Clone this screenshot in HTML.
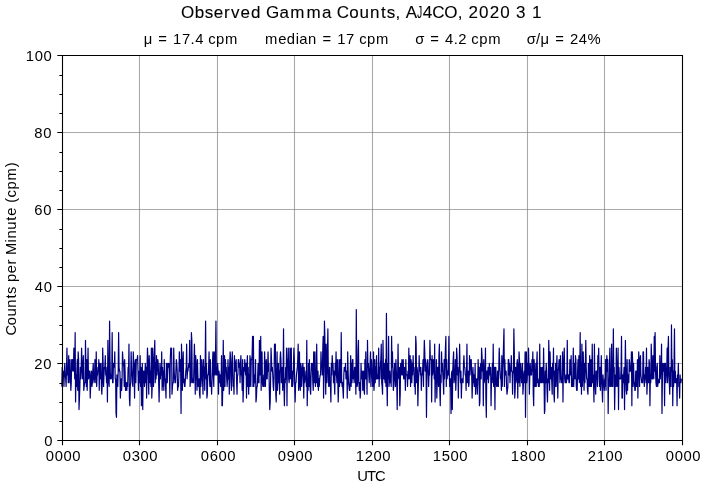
<!DOCTYPE html>
<html><head><meta charset="utf-8"><style>html,body{margin:0;padding:0;background:#fff;width:705px;height:489px;overflow:hidden}svg{display:block;will-change:transform}</style></head>
<body><svg width="705" height="489" viewBox="0 0 705 489">
<rect width="705" height="489" fill="#fff"/>
<path d="M139.5 55V441 M217.5 55V441 M294.5 55V441 M372.5 55V441 M449.5 55V441 M527.5 55V441 M604.5 55V441" stroke="#808080" stroke-opacity="0.68" stroke-width="1.1" fill="none"/>
<path d="M62 363.5H683 M62 286.5H683 M62 209.5H683 M62 132.5H683" stroke="#808080" stroke-opacity="0.68" stroke-width="1.1" fill="none"/>
<polyline points="61.80,386.50 62.23,367.25 62.66,374.95 63.09,371.10 63.52,374.95 63.95,386.50 64.38,371.10 64.81,363.40 65.24,374.95 65.67,378.80 66.11,386.50 66.54,367.25 66.97,348.00 67.40,374.95 67.83,367.25 68.26,382.65 68.69,355.70 69.12,382.65 69.55,374.95 69.98,359.55 70.41,374.95 70.84,390.35 71.27,382.65 71.70,359.55 72.13,371.10 72.56,359.55 72.99,359.55 73.42,371.10 73.86,348.00 74.29,359.55 74.72,378.80 75.15,332.60 75.58,401.90 76.01,374.95 76.44,386.50 76.87,371.10 77.30,359.55 77.73,390.35 78.16,351.85 78.59,359.55 79.02,409.60 79.45,398.05 79.88,386.50 80.31,367.25 80.74,378.80 81.17,367.25 81.61,348.00 82.04,367.25 82.47,378.80 82.90,367.25 83.33,355.70 83.76,390.35 84.19,386.50 84.62,382.65 85.05,382.65 85.48,340.30 85.91,367.25 86.34,386.50 86.77,359.55 87.20,390.35 87.63,371.10 88.06,348.00 88.49,378.80 88.92,374.95 89.36,371.10 89.79,371.10 90.22,398.05 90.65,386.50 91.08,374.95 91.51,371.10 91.94,386.50 92.37,382.65 92.80,371.10 93.23,363.40 93.66,378.80 94.09,382.65 94.52,378.80 94.95,359.55 95.38,367.25 95.81,382.65 96.24,351.85 96.67,386.50 97.11,374.95 97.54,374.95 97.97,367.25 98.40,371.10 98.83,359.55 99.26,390.35 99.69,363.40 100.12,378.80 100.55,367.25 100.98,363.40 101.41,386.50 101.84,394.20 102.27,382.65 102.70,348.00 103.13,363.40 103.56,386.50 103.99,374.95 104.42,367.25 104.86,367.25 105.29,355.70 105.72,374.95 106.15,374.95 106.58,382.65 107.01,367.25 107.44,401.90 107.87,340.30 108.30,367.25 108.73,382.65 109.16,386.50 109.59,321.05 110.02,359.55 110.45,378.80 110.88,374.95 111.31,378.80 111.74,374.95 112.17,332.60 112.61,382.65 113.04,382.65 113.47,363.40 113.90,363.40 114.33,367.25 114.76,351.85 115.19,378.80 115.62,378.80 116.05,413.45 116.48,417.30 116.91,374.95 117.34,386.50 117.77,386.50 118.20,371.10 118.63,332.60 119.06,367.25 119.49,371.10 119.92,371.10 120.36,398.05 120.79,386.50 121.22,378.80 121.65,390.35 122.08,378.80 122.51,351.85 122.94,359.55 123.37,363.40 123.80,367.25 124.23,386.50 124.66,359.55 125.09,371.10 125.52,390.35 125.95,382.65 126.38,382.65 126.81,390.35 127.24,382.65 127.67,386.50 128.11,367.25 128.54,371.10 128.97,344.15 129.40,398.05 129.83,405.75 130.26,386.50 130.69,382.65 131.12,351.85 131.55,367.25 131.98,374.95 132.41,382.65 132.84,386.50 133.27,351.85 133.70,363.40 134.13,367.25 134.56,398.05 134.99,363.40 135.43,359.55 135.86,382.65 136.29,359.55 136.72,359.55 137.15,359.55 137.58,355.70 138.01,371.10 138.44,390.35 138.87,374.95 139.30,371.10 139.73,382.65 140.16,355.70 140.59,386.50 141.02,367.25 141.45,405.75 141.88,398.05 142.31,363.40 142.74,409.60 143.18,371.10 143.61,382.65 144.04,371.10 144.47,386.50 144.90,374.95 145.33,363.40 145.76,382.65 146.19,367.25 146.62,398.05 147.05,367.25 147.48,348.00 147.91,359.55 148.34,378.80 148.77,394.20 149.20,355.70 149.63,367.25 150.06,382.65 150.49,371.10 150.93,386.50 151.36,348.00 151.79,398.05 152.22,386.50 152.65,348.00 153.08,363.40 153.51,386.50 153.94,363.40 154.37,351.85 154.80,340.30 155.23,382.65 155.66,363.40 156.09,378.80 156.52,355.70 156.95,374.95 157.38,367.25 157.81,359.55 158.24,363.40 158.68,382.65 159.11,401.90 159.54,378.80 159.97,363.40 160.40,378.80 160.83,367.25 161.26,374.95 161.69,351.85 162.12,390.35 162.55,367.25 162.98,386.50 163.41,371.10 163.84,390.35 164.27,359.55 164.70,378.80 165.13,378.80 165.56,386.50 165.99,398.05 166.43,363.40 166.86,367.25 167.29,382.65 167.72,363.40 168.15,367.25 168.58,363.40 169.01,363.40 169.44,374.95 169.87,398.05 170.30,359.55 170.73,348.00 171.16,355.70 171.59,348.00 172.02,394.20 172.45,386.50 172.88,382.65 173.31,382.65 173.74,348.00 174.18,371.10 174.61,378.80 175.04,382.65 175.47,382.65 175.90,371.10 176.33,359.55 176.76,363.40 177.19,371.10 177.62,390.35 178.05,386.50 178.48,386.50 178.91,374.95 179.34,351.85 179.77,371.10 180.20,359.55 180.63,367.25 181.06,413.45 181.49,344.15 181.93,363.40 182.36,390.35 182.79,367.25 183.22,351.85 183.65,382.65 184.08,378.80 184.51,386.50 184.94,386.50 185.37,378.80 185.80,371.10 186.23,367.25 186.66,344.15 187.09,378.80 187.52,371.10 187.95,371.10 188.38,367.25 188.81,363.40 189.24,367.25 189.68,340.30 190.11,386.50 190.54,378.80 190.97,382.65 191.40,332.60 191.83,340.30 192.26,382.65 192.69,378.80 193.12,378.80 193.55,382.65 193.98,363.40 194.41,344.15 194.84,363.40 195.27,394.20 195.70,355.70 196.13,363.40 196.56,374.95 196.99,390.35 197.43,359.55 197.86,374.95 198.29,386.50 198.72,386.50 199.15,378.80 199.58,394.20 200.01,398.05 200.44,355.70 200.87,386.50 201.30,378.80 201.73,359.55 202.16,367.25 202.59,382.65 203.02,394.20 203.45,359.55 203.88,374.95 204.31,367.25 204.74,390.35 205.18,363.40 205.61,321.05 206.04,378.80 206.47,363.40 206.90,398.05 207.33,394.20 207.76,374.95 208.19,374.95 208.62,367.25 209.05,351.85 209.48,378.80 209.91,386.50 210.34,359.55 210.77,386.50 211.20,382.65 211.63,394.20 212.06,378.80 212.49,363.40 212.93,351.85 213.36,374.95 213.79,386.50 214.22,351.85 214.65,363.40 215.08,374.95 215.51,355.70 215.94,321.05 216.37,374.95 216.80,371.10 217.23,374.95 217.66,363.40 218.09,371.10 218.52,394.20 218.95,371.10 219.38,374.95 219.81,382.65 220.24,374.95 220.68,386.50 221.11,378.80 221.54,355.70 221.97,405.75 222.40,405.75 222.83,382.65 223.26,340.30 223.69,390.35 224.12,374.95 224.55,355.70 224.98,386.50 225.41,359.55 225.84,371.10 226.27,367.25 226.70,378.80 227.13,386.50 227.56,378.80 227.99,359.55 228.43,378.80 228.86,367.25 229.29,394.20 229.72,363.40 230.15,351.85 230.58,359.55 231.01,382.65 231.44,390.35 231.87,363.40 232.30,351.85 232.73,371.10 233.16,386.50 233.59,382.65 234.02,394.20 234.45,355.70 234.88,367.25 235.31,371.10 235.74,363.40 236.18,359.55 236.61,382.65 237.04,394.20 237.47,374.95 237.90,374.95 238.33,359.55 238.76,359.55 239.19,367.25 239.62,363.40 240.05,382.65 240.48,363.40 240.91,355.70 241.34,374.95 241.77,374.95 242.20,390.35 242.63,359.55 243.06,401.90 243.49,386.50 243.93,367.25 244.36,371.10 244.79,359.55 245.22,367.25 245.65,374.95 246.08,363.40 246.51,398.05 246.94,367.25 247.37,355.70 247.80,386.50 248.23,367.25 248.66,394.20 249.09,374.95 249.52,386.50 249.95,355.70 250.38,359.55 250.81,386.50 251.24,359.55 251.68,359.55 252.11,355.70 252.54,336.45 252.97,386.50 253.40,336.45 253.83,386.50 254.26,378.80 254.69,374.95 255.12,382.65 255.55,359.55 255.98,401.90 256.41,398.05 256.84,386.50 257.27,386.50 257.70,374.95 258.13,363.40 258.56,382.65 258.99,382.65 259.43,340.30 259.86,374.95 260.29,374.95 260.72,336.45 261.15,390.35 261.58,359.55 262.01,351.85 262.44,382.65 262.87,386.50 263.30,386.50 263.73,374.95 264.16,386.50 264.59,351.85 265.02,363.40 265.45,386.50 265.88,367.25 266.31,359.55 266.74,378.80 267.18,378.80 267.61,367.25 268.04,351.85 268.47,371.10 268.90,363.40 269.33,390.35 269.76,409.60 270.19,401.90 270.62,378.80 271.05,348.00 271.48,359.55 271.91,371.10 272.34,367.25 272.77,374.95 273.20,386.50 273.63,390.35 274.06,378.80 274.49,344.15 274.93,359.55 275.36,344.15 275.79,394.20 276.22,401.90 276.65,378.80 277.08,351.85 277.51,390.35 277.94,378.80 278.37,363.40 278.80,382.65 279.23,371.10 279.66,394.20 280.09,359.55 280.52,351.85 280.95,359.55 281.38,382.65 281.81,374.95 282.24,367.25 282.68,390.35 283.11,371.10 283.54,328.75 283.97,386.50 284.40,405.75 284.83,378.80 285.26,382.65 285.69,367.25 286.12,378.80 286.55,348.00 286.98,405.75 287.41,359.55 287.84,363.40 288.27,348.00 288.70,378.80 289.13,382.65 289.56,374.95 289.99,348.00 290.43,378.80 290.86,363.40 291.29,348.00 291.72,386.50 292.15,371.10 292.58,386.50 293.01,382.65 293.44,367.25 293.87,348.00 294.30,359.55 294.73,386.50 295.16,401.90 295.59,382.65 296.02,382.65 296.45,374.95 296.88,371.10 297.31,367.25 297.74,359.55 298.18,344.15 298.61,390.35 299.04,371.10 299.47,351.85 299.90,386.50 300.33,390.35 300.76,363.40 301.19,367.25 301.62,386.50 302.05,374.95 302.48,367.25 302.91,363.40 303.34,378.80 303.77,398.05 304.20,367.25 304.63,382.65 305.06,378.80 305.49,378.80 305.93,371.10 306.36,386.50 306.79,340.30 307.22,405.75 307.65,382.65 308.08,390.35 308.51,363.40 308.94,386.50 309.37,359.55 309.80,374.95 310.23,390.35 310.66,394.20 311.09,374.95 311.52,363.40 311.95,367.25 312.38,363.40 312.81,382.65 313.24,390.35 313.68,351.85 314.11,374.95 314.54,382.65 314.97,351.85 315.40,386.50 315.83,371.10 316.26,382.65 316.69,344.15 317.12,374.95 317.55,386.50 317.98,371.10 318.41,390.35 318.84,378.80 319.27,386.50 319.70,378.80 320.13,374.95 320.56,374.95 320.99,351.85 321.43,367.25 321.86,367.25 322.29,374.95 322.72,351.85 323.15,336.45 323.58,398.05 324.01,371.10 324.44,321.05 324.87,336.45 325.30,367.25 325.73,394.20 326.16,344.15 326.59,374.95 327.02,382.65 327.45,351.85 327.88,328.75 328.31,371.10 328.74,386.50 329.18,378.80 329.61,367.25 330.04,386.50 330.47,386.50 330.90,401.90 331.33,363.40 331.76,374.95 332.19,355.70 332.62,363.40 333.05,363.40 333.48,382.65 333.91,371.10 334.34,382.65 334.77,394.20 335.20,363.40 335.63,374.95 336.06,351.85 336.49,374.95 336.93,382.65 337.36,359.55 337.79,378.80 338.22,401.90 338.65,386.50 339.08,359.55 339.51,386.50 339.94,367.25 340.37,359.55 340.80,382.65 341.23,332.60 341.66,378.80 342.09,386.50 342.52,382.65 342.95,390.35 343.38,398.05 343.81,374.95 344.24,367.25 344.68,371.10 345.11,371.10 345.54,363.40 345.97,378.80 346.40,374.95 346.83,371.10 347.26,398.05 347.69,351.85 348.12,371.10 348.55,382.65 348.98,386.50 349.41,390.35 349.84,390.35 350.27,371.10 350.70,355.70 351.13,386.50 351.56,363.40 351.99,382.65 352.43,359.55 352.86,359.55 353.29,378.80 353.72,371.10 354.15,382.65 354.58,367.25 355.01,367.25 355.44,374.95 355.87,394.20 356.30,309.50 356.73,374.95 357.16,386.50 357.59,382.65 358.02,351.85 358.45,340.30 358.88,382.65 359.31,390.35 359.74,382.65 360.18,398.05 360.61,390.35 361.04,363.40 361.47,378.80 361.90,374.95 362.33,371.10 362.76,390.35 363.19,374.95 363.62,371.10 364.05,390.35 364.48,394.20 364.91,359.55 365.34,378.80 365.77,351.85 366.20,378.80 366.63,371.10 367.06,394.20 367.49,340.30 367.93,367.25 368.36,363.40 368.79,374.95 369.22,382.65 369.65,371.10 370.08,363.40 370.51,351.85 370.94,386.50 371.37,359.55 371.80,363.40 372.23,374.95 372.66,386.50 373.09,382.65 373.52,351.85 373.95,390.35 374.38,382.65 374.81,359.55 375.24,382.65 375.68,367.25 376.11,378.80 376.54,355.70 376.97,378.80 377.40,374.95 377.83,378.80 378.26,374.95 378.69,348.00 379.12,386.50 379.55,367.25 379.98,378.80 380.41,363.40 380.84,359.55 381.27,344.15 381.70,382.65 382.13,386.50 382.56,394.20 382.99,340.30 383.43,367.25 383.86,378.80 384.29,363.40 384.72,378.80 385.15,382.65 385.58,359.55 386.01,386.50 386.44,313.35 386.87,382.65 387.30,405.75 387.73,363.40 388.16,378.80 388.59,336.45 389.02,386.50 389.45,378.80 389.88,371.10 390.31,382.65 390.74,374.95 391.18,386.50 391.61,336.45 392.04,367.25 392.47,351.85 392.90,371.10 393.33,390.35 393.76,386.50 394.19,371.10 394.62,363.40 395.05,378.80 395.48,386.50 395.91,359.55 396.34,371.10 396.77,382.65 397.20,409.60 397.63,374.95 398.06,344.15 398.49,374.95 398.93,378.80 399.36,367.25 399.79,405.75 400.22,394.20 400.65,363.40 401.08,374.95 401.51,367.25 401.94,359.55 402.37,374.95 402.80,374.95 403.23,359.55 403.66,378.80 404.09,378.80 404.52,367.25 404.95,371.10 405.38,390.35 405.81,359.55 406.24,374.95 406.68,374.95 407.11,374.95 407.54,386.50 407.97,371.10 408.40,378.80 408.83,348.00 409.26,374.95 409.69,378.80 410.12,355.70 410.55,386.50 410.98,359.55 411.41,363.40 411.84,382.65 412.27,363.40 412.70,374.95 413.13,355.70 413.56,371.10 413.99,367.25 414.43,386.50 414.86,378.80 415.29,394.20 415.72,336.45 416.15,344.15 416.58,382.65 417.01,367.25 417.44,371.10 417.87,405.75 418.30,386.50 418.73,374.95 419.16,355.70 419.59,371.10 420.02,367.25 420.45,374.95 420.88,367.25 421.31,390.35 421.74,374.95 422.18,374.95 422.61,371.10 423.04,359.55 423.47,386.50 423.90,359.55 424.33,340.30 424.76,351.85 425.19,371.10 425.62,359.55 426.05,367.25 426.48,417.30 426.91,378.80 427.34,363.40 427.77,359.55 428.20,367.25 428.63,386.50 429.06,371.10 429.49,374.95 429.93,340.30 430.36,359.55 430.79,359.55 431.22,359.55 431.65,401.90 432.08,355.70 432.51,374.95 432.94,371.10 433.37,359.55 433.80,363.40 434.23,378.80 434.66,344.15 435.09,401.90 435.52,374.95 435.95,382.65 436.38,359.55 436.81,398.05 437.24,382.65 437.68,367.25 438.11,367.25 438.54,386.50 438.97,355.70 439.40,344.15 439.83,390.35 440.26,405.75 440.69,374.95 441.12,382.65 441.55,351.85 441.98,371.10 442.41,363.40 442.84,374.95 443.27,382.65 443.70,394.20 444.13,359.55 444.56,378.80 444.99,363.40 445.43,348.00 445.86,336.45 446.29,386.50 446.72,359.55 447.15,378.80 447.58,371.10 448.01,371.10 448.44,374.95 448.87,336.45 449.30,374.95 449.73,386.50 450.16,378.80 450.59,378.80 451.02,413.45 451.45,374.95 451.88,371.10 452.31,409.60 452.74,371.10 453.18,359.55 453.61,351.85 454.04,382.65 454.47,378.80 454.90,374.95 455.33,359.55 455.76,390.35 456.19,378.80 456.62,348.00 457.05,355.70 457.48,374.95 457.91,367.25 458.34,398.05 458.77,371.10 459.20,371.10 459.63,344.15 460.06,371.10 460.49,382.65 460.93,371.10 461.36,398.05 461.79,382.65 462.22,378.80 462.65,378.80 463.08,382.65 463.51,363.40 463.94,355.70 464.37,367.25 464.80,367.25 465.23,374.95 465.66,374.95 466.09,390.35 466.52,371.10 466.95,344.15 467.38,382.65 467.81,374.95 468.24,371.10 468.68,386.50 469.11,382.65 469.54,355.70 469.97,374.95 470.40,367.25 470.83,359.55 471.26,359.55 471.69,374.95 472.12,398.05 472.55,382.65 472.98,367.25 473.41,382.65 473.84,374.95 474.27,386.50 474.70,386.50 475.13,363.40 475.56,394.20 475.99,378.80 476.43,386.50 476.86,378.80 477.29,394.20 477.72,382.65 478.15,359.55 478.58,378.80 479.01,367.25 479.44,405.75 479.87,401.90 480.30,367.25 480.73,363.40 481.16,378.80 481.59,348.00 482.02,355.70 482.45,371.10 482.88,363.40 483.31,405.75 483.74,359.55 484.18,382.65 484.61,378.80 485.04,371.10 485.47,348.00 485.90,398.05 486.33,417.30 486.76,371.10 487.19,371.10 487.62,378.80 488.05,367.25 488.48,382.65 488.91,374.95 489.34,363.40 489.77,374.95 490.20,371.10 490.63,367.25 491.06,405.75 491.49,378.80 491.93,378.80 492.36,363.40 492.79,382.65 493.22,344.15 493.65,386.50 494.08,367.25 494.51,367.25 494.94,409.60 495.37,367.25 495.80,367.25 496.23,382.65 496.66,386.50 497.09,386.50 497.52,371.10 497.95,371.10 498.38,386.50 498.81,367.25 499.24,348.00 499.68,363.40 500.11,371.10 500.54,378.80 500.97,378.80 501.40,390.35 501.83,355.70 502.26,386.50 502.69,371.10 503.12,359.55 503.55,344.15 503.98,328.75 504.41,386.50 504.84,359.55 505.27,374.95 505.70,371.10 506.13,371.10 506.56,386.50 506.99,394.20 507.43,390.35 507.86,386.50 508.29,359.55 508.72,359.55 509.15,374.95 509.58,363.40 510.01,382.65 510.44,367.25 510.87,371.10 511.30,355.70 511.73,371.10 512.16,371.10 512.59,394.20 513.02,374.95 513.45,371.10 513.88,328.75 514.31,351.85 514.74,398.05 515.17,390.35 515.61,367.25 516.04,382.65 516.47,378.80 516.90,363.40 517.33,359.55 517.76,398.05 518.19,363.40 518.62,382.65 519.05,351.85 519.48,359.55 519.91,386.50 520.34,371.10 520.77,363.40 521.20,374.95 521.63,382.65 522.06,374.95 522.49,363.40 522.92,394.20 523.36,386.50 523.79,374.95 524.22,371.10 524.65,382.65 525.08,351.85 525.51,417.30 525.94,371.10 526.37,351.85 526.80,382.65 527.23,378.80 527.66,363.40 528.09,374.95 528.52,348.00 528.95,367.25 529.38,394.20 529.81,374.95 530.24,363.40 530.67,374.95 531.11,371.10 531.54,374.95 531.97,359.55 532.40,371.10 532.83,351.85 533.26,394.20 533.69,405.75 534.12,359.55 534.55,371.10 534.98,386.50 535.41,386.50 535.84,363.40 536.27,386.50 536.70,363.40 537.13,351.85 537.56,382.65 537.99,378.80 538.42,386.50 538.86,382.65 539.29,386.50 539.72,344.15 540.15,382.65 540.58,382.65 541.01,367.25 541.44,382.65 541.87,382.65 542.30,367.25 542.73,378.80 543.16,382.65 543.59,348.00 544.02,374.95 544.45,413.45 544.88,409.60 545.31,371.10 545.74,382.65 546.17,363.40 546.61,371.10 547.04,390.35 547.47,401.90 547.90,378.80 548.33,382.65 548.76,340.30 549.19,359.55 549.62,390.35 550.05,351.85 550.48,367.25 550.91,378.80 551.34,367.25 551.77,382.65 552.20,394.20 552.63,363.40 553.06,374.95 553.49,348.00 553.92,394.20 554.36,401.90 554.79,371.10 555.22,386.50 555.65,363.40 556.08,386.50 556.51,367.25 556.94,355.70 557.37,378.80 557.80,398.05 558.23,371.10 558.66,367.25 559.09,359.55 559.52,367.25 559.95,382.65 560.38,355.70 560.81,378.80 561.24,378.80 561.67,382.65 562.11,374.95 562.54,351.85 562.97,401.90 563.40,367.25 563.83,359.55 564.26,348.00 564.69,378.80 565.12,382.65 565.55,382.65 565.98,374.95 566.41,382.65 566.84,378.80 567.27,340.30 567.70,378.80 568.13,378.80 568.56,374.95 568.99,382.65 569.42,382.65 569.86,359.55 570.29,374.95 570.72,371.10 571.15,355.70 571.58,386.50 572.01,382.65 572.44,386.50 572.87,374.95 573.30,348.00 573.73,386.50 574.16,367.25 574.59,363.40 575.02,378.80 575.45,355.70 575.88,359.55 576.31,386.50 576.74,390.35 577.17,390.35 577.61,371.10 578.04,359.55 578.47,378.80 578.90,355.70 579.33,382.65 579.76,371.10 580.19,332.60 580.62,386.50 581.05,363.40 581.48,394.20 581.91,344.15 582.34,386.50 582.77,374.95 583.20,351.85 583.63,371.10 584.06,390.35 584.49,363.40 584.92,382.65 585.36,363.40 585.79,340.30 586.22,367.25 586.65,378.80 587.08,378.80 587.51,390.35 587.94,394.20 588.37,363.40 588.80,374.95 589.23,386.50 589.66,355.70 590.09,386.50 590.52,386.50 590.95,359.55 591.38,386.50 591.81,378.80 592.24,344.15 592.67,382.65 593.11,374.95 593.54,382.65 593.97,401.90 594.40,344.15 594.83,374.95 595.26,386.50 595.69,394.20 596.12,371.10 596.55,374.95 596.98,371.10 597.41,386.50 597.84,355.70 598.27,363.40 598.70,348.00 599.13,378.80 599.56,386.50 599.99,367.25 600.42,390.35 600.86,378.80 601.29,355.70 601.72,378.80 602.15,390.35 602.58,401.90 603.01,374.95 603.44,382.65 603.87,382.65 604.30,390.35 604.73,378.80 605.16,386.50 605.59,359.55 606.02,390.35 606.45,363.40 606.88,355.70 607.31,371.10 607.74,359.55 608.17,413.45 608.61,378.80 609.04,386.50 609.47,363.40 609.90,348.00 610.33,386.50 610.76,386.50 611.19,386.50 611.62,344.15 612.05,371.10 612.48,386.50 612.91,386.50 613.34,328.75 613.77,371.10 614.20,367.25 614.63,409.60 615.06,382.65 615.49,374.95 615.92,386.50 616.36,348.00 616.79,367.25 617.22,386.50 617.65,378.80 618.08,348.00 618.51,409.60 618.94,367.25 619.37,378.80 619.80,378.80 620.23,378.80 620.66,378.80 621.09,367.25 621.52,336.45 621.95,398.05 622.38,398.05 622.81,374.95 623.24,382.65 623.67,374.95 624.11,367.25 624.54,409.60 624.97,374.95 625.40,340.30 625.83,371.10 626.26,390.35 626.69,394.20 627.12,359.55 627.55,390.35 627.98,374.95 628.41,374.95 628.84,382.65 629.27,359.55 629.70,363.40 630.13,371.10 630.56,371.10 630.99,371.10 631.42,351.85 631.86,405.75 632.29,351.85 632.72,363.40 633.15,386.50 633.58,363.40 634.01,382.65 634.44,382.65 634.87,390.35 635.30,390.35 635.73,371.10 636.16,371.10 636.59,386.50 637.02,386.50 637.45,359.55 637.88,398.05 638.31,374.95 638.74,351.85 639.17,363.40 639.61,386.50 640.04,359.55 640.47,355.70 640.90,374.95 641.33,378.80 641.76,382.65 642.19,382.65 642.62,382.65 643.05,351.85 643.48,351.85 643.91,378.80 644.34,386.50 644.77,374.95 645.20,378.80 645.63,367.25 646.06,382.65 646.49,348.00 646.92,394.20 647.36,382.65 647.79,367.25 648.22,378.80 648.65,382.65 649.08,359.55 649.51,363.40 649.94,405.75 650.37,374.95 650.80,382.65 651.23,344.15 651.66,359.55 652.09,378.80 652.52,378.80 652.95,355.70 653.38,374.95 653.81,378.80 654.24,336.45 654.67,371.10 655.11,332.60 655.54,371.10 655.97,382.65 656.40,386.50 656.83,367.25 657.26,363.40 657.69,386.50 658.12,382.65 658.55,382.65 658.98,378.80 659.41,382.65 659.84,355.70 660.27,378.80 660.70,371.10 661.13,367.25 661.56,344.15 661.99,413.45 662.42,378.80 662.86,363.40 663.29,371.10 663.72,371.10 664.15,363.40 664.58,405.75 665.01,363.40 665.44,363.40 665.87,382.65 666.30,374.95 666.73,371.10 667.16,348.00 667.59,382.65 668.02,348.00 668.45,336.45 668.88,374.95 669.31,382.65 669.74,394.20 670.17,367.25 670.61,374.95 671.04,386.50 671.47,324.90 671.90,371.10 672.33,359.55 672.76,405.75 673.19,371.10 673.62,386.50 674.05,363.40 674.48,328.75 674.91,382.65 675.34,371.10 675.77,382.65 676.20,378.80 676.63,378.80 677.06,405.75 677.49,374.95 677.92,378.80 678.36,363.40 678.79,386.50 679.22,382.65 679.65,398.05 680.08,374.95 680.51,382.65 680.94,382.65 681.37,378.80" fill="none" stroke="#000080" stroke-width="1.2" stroke-linejoin="round"/>
<path d="M62.5 55V441M682.5 55V441M62 55.5H683M62 440.5H683" stroke="#000" stroke-width="1.1" fill="none"/>
<path d="M62.5 440V445.3 M139.5 440V445.3 M217.5 440V445.3 M294.5 440V445.3 M372.5 440V445.3 M449.5 440V445.3 M527.5 440V445.3 M604.5 440V445.3 M682.5 440V445.3 M57.3 440.5H62.5 M57.3 363.5H62.5 M57.3 286.5H62.5 M57.3 209.5H62.5 M57.3 132.5H62.5 M57.3 55.5H62.5 M59.4 421.5H62.5 M59.4 402.5H62.5 M59.4 383.5H62.5 M59.4 344.5H62.5 M59.4 325.5H62.5 M59.4 306.5H62.5 M59.4 267.5H62.5 M59.4 248.5H62.5 M59.4 229.5H62.5 M59.4 190.5H62.5 M59.4 171.5H62.5 M59.4 152.5H62.5 M59.4 113.5H62.5 M59.4 94.5H62.5 M59.4 75.5H62.5" stroke="#000" stroke-width="1.1" fill="none"/>
<g font-family="Liberation Sans, sans-serif" fill="#000" stroke="#000" stroke-width="0">
<text transform="translate(181.00 18.00) scale(1.0 1)" x="-0.07 13.63 23.72 32.69 43.12 50.03 59.59 69.98 80.26 85.10 98.52 109.36 125.55 141.09 151.20 155.87 168.17 178.52 189.06 199.95 205.65 214.51 219.80 224.82 234.38 241.64 251.32 263.20 276.63 281.92 287.48 298.06 308.64 319.21 329.51 335.07 345.37 350.94" y="0" font-size="17.0" stroke-width="0.1">Observed&#160;Gamma&#160;Counts,&#160;A&#160;4CO,&#160;2020&#160;3&#160;1</text><text transform="translate(417.18 18.00) scale(0.577 1)" x="0" y="0" font-size="17.0" stroke-width="0.1">J</text>
<text transform="translate(143.50 44.00) scale(1.0 1)" x="0.15 8.98 14.73 25.01 29.57 38.40 47.08 51.64 60.32 64.69 72.50 81.61" y="0" font-size="14.8">μ = 17.4 cpm</text>
<text transform="translate(264.50 44.00) scale(1.0 1)" x="0.59 13.67 22.34 31.14 34.85 43.50 52.16 57.91 68.20 72.76 81.58 90.26 94.64 102.44 111.55" y="0" font-size="14.8">median = 17 cpm</text>
<text transform="translate(415.50 44.00) scale(1.0 1)" x="-0.17 8.94 14.70 24.98 29.54 38.22 42.78 51.46 55.83 63.63 72.75" y="0" font-size="14.8">σ = 4.2 cpm</text>
<text transform="translate(527.00 44.00) scale(1.0 1)" x="-0.17 9.08 13.62 22.45 28.20 38.48 43.04 51.87 60.41" y="0" font-size="14.8">σ/μ = 24%</text>
<text transform="translate(45.50 461.00) scale(1.0 1)" x="0.30 9.13 17.95 26.78" y="0" font-size="14.8">0000</text>
<text transform="translate(122.50 461.00) scale(1.0 1)" x="0.30 9.13 17.95 26.78" y="0" font-size="14.8">0300</text>
<text transform="translate(200.50 461.00) scale(1.0 1)" x="0.30 9.13 17.95 26.78" y="0" font-size="14.8">0600</text>
<text transform="translate(277.50 461.00) scale(1.0 1)" x="0.30 9.13 17.95 26.78" y="0" font-size="14.8">0900</text>
<text transform="translate(355.50 461.00) scale(1.0 1)" x="0.30 9.13 17.95 26.78" y="0" font-size="14.8">1200</text>
<text transform="translate(432.50 461.00) scale(1.0 1)" x="0.30 9.13 17.95 26.78" y="0" font-size="14.8">1500</text>
<text transform="translate(510.50 461.00) scale(1.0 1)" x="0.30 9.13 17.95 26.78" y="0" font-size="14.8">1800</text>
<text transform="translate(587.50 461.00) scale(1.0 1)" x="0.30 9.13 17.95 26.78" y="0" font-size="14.8">2100</text>
<text transform="translate(665.50 461.00) scale(1.0 1)" x="0.30 9.13 17.95 26.78" y="0" font-size="14.8">0000</text>
<text transform="translate(44.00 446.20) scale(1.0 1)" x="0.30" y="0" font-size="14.8">0</text>
<text transform="translate(34.00 369.20) scale(1.0 1)" x="0.30 9.13" y="0" font-size="14.8">20</text>
<text transform="translate(34.50 292.20) scale(1.0 1)" x="0.30 9.13" y="0" font-size="14.8">40</text>
<text transform="translate(34.00 215.20) scale(1.0 1)" x="0.30 9.13" y="0" font-size="14.8">60</text>
<text transform="translate(34.00 138.20) scale(1.0 1)" x="0.30 9.13" y="0" font-size="14.8">80</text>
<text transform="translate(25.50 61.20) scale(1.0 1)" x="0.30 9.13 17.95" y="0" font-size="14.8">100</text>
<text transform="translate(357.50 481.00) scale(1.0 1)" x="-0.27 9.50 17.38" y="0" font-size="14.8">UTC</text>
<text transform="translate(16.00 335.00) rotate(-90) scale(1.0 1)" x="-0.50 9.82 18.46 27.25 36.43 41.12 48.58 53.13 61.80 70.58 76.04 80.12 92.56 96.41 105.20 114.38 119.31 127.84 132.35 137.63 145.43 154.55 167.71" y="0" font-size="14.8">Counts per Minute (cpm)</text>
</g></svg></body></html>
